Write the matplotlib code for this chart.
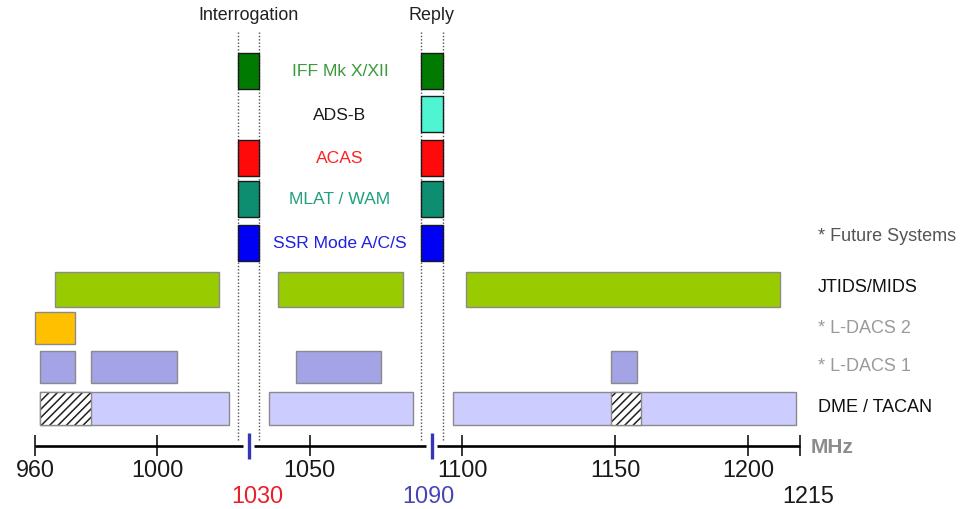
import numpy as np
import matplotlib
matplotlib.use('Agg')
import matplotlib.pyplot as plt

plt.rcParams['font.family'] = ['Liberation Sans', 'DejaVu Sans']
plt.rcParams['hatch.linewidth'] = 1.1

# ---------------- data ----------------
ssr_systems = ['IFF Mk X/XII', 'ADS-B', 'ACAS', 'MLAT / WAM', 'SSR Mode A/C/S']
ssr_has_interrogation = [True, False, True, True, True]
ssr_has_reply = [True, True, True, True, True]
interrogation_freq = 1030
reply_freq = 1090
interrogation_band = (1026.5, 1033.5)
reply_band = (1086.5, 1093.5)

jtids_bands = [(966.6, 1020.3), (1039.6, 1080.6), (1101.2, 1209.2)]
ldacs2_bands = [(960.0, 973.1)]
ldacs1_bands = [(961.6, 973.1), (978.2, 1006.6), (1045.5, 1073.5), (1148.6, 1158.4)]
dme_bands = [(961.6, 1023.6), (1036.7, 1083.8), (1097.0, 1213.8)]
dme_shared_bands = [(961.6, 978.3), (1148.6, 1159.7)]

upper_tick_values = [960, 1000, 1050, 1100, 1150, 1200]
end_value = 1215
start_value = 960

right_labels = ['* Future Systems', 'JTIDS/MIDS', '* L-DACS 2', '* L-DACS 1', 'DME / TACAN']

# ---------------- styles / layout ----------------
ssr_face = ['#007a00', '#4ff5d2', '#ff0a0a', '#0e8e70', '#0000f5']
ssr_text = ['#3a9a3a', '#1a1a1a', '#ff2020', '#20a080', '#2020e0']
ssr_rows = [71.5, 115, 158.5, 200, 243.5]
ssr_h = 36

# piecewise x scale of the (hand-drawn) diagram
F = [900, 960, 1150, 1200, 1215, 1300]
P = [-148.2, 35, 615, 748, 800, 1094.7]
fwd = lambda x: np.interp(x, F, P)
inv = lambda p: np.interp(p, P, F)

fig = plt.figure(figsize=(9.7, 5.1), dpi=100)
ax = fig.add_axes([0, 0, 1, 1])
ax.set_xscale('function', functions=(fwd, inv))
ax.set_xlim(inv(0), inv(970))
ax.set_ylim(510, 0)
ax.axis('off')

# dotted guide lines
ax.vlines([interrogation_band[0], interrogation_band[1], reply_band[0], reply_band[1]],
          33, 441, colors='#505050', linestyles=(0, (1, 1.4)), lw=1.0, zorder=1)

# SSR-type systems
for i, name in enumerate(ssr_systems):
    y = ssr_rows[i]
    if ssr_has_interrogation[i]:
        ax.barh(y, interrogation_band[1] - interrogation_band[0], left=interrogation_band[0],
                height=ssr_h, color=ssr_face[i], edgecolor='#1a1a1a', lw=1.0, zorder=3)
    if ssr_has_reply[i]:
        ax.barh(y, reply_band[1] - reply_band[0], left=reply_band[0],
                height=ssr_h, color=ssr_face[i], edgecolor='#1a1a1a', lw=1.0, zorder=3)
    ax.text(1059.9, y, name, color=ssr_text[i], fontsize=12.6, ha='center', va='center')

def bands(rows, y, h, color):
    for a, b in rows:
        ax.barh(y, b - a, left=a, height=h, color=color, edgecolor='#8a8a8a', lw=1.0, zorder=3)

bands(jtids_bands, 290, 35, '#99cc00')
bands(ldacs2_bands, 329, 32, '#ffc000')
bands(ldacs1_bands, 368, 32, '#a3a3e6')
bands(dme_bands, 409.5, 33, '#ccccff')
for a, b in dme_shared_bands:
    ax.barh(409.5, b - a, left=a, height=33, color='white', edgecolor='#202020',
            hatch='////', lw=0, zorder=4)
    ax.barh(409.5, b - a, left=a, height=33, fill=False, edgecolor='#8a8a8a', lw=1.0, zorder=5)

# headers
ax.text(interrogation_freq, 16, 'Interrogation', fontsize=12.9, ha='center', va='center', color='#222')
ax.text(reply_freq, 16, 'Reply', fontsize=12.9, ha='center', va='center', color='#222')

# right-hand labels
rl_y = [237, 288, 329, 367, 408]
rl_c = ['#555555', '#111111', '#9a9a9a', '#9a9a9a', '#111111']
for t, y, c in zip(right_labels, rl_y, rl_c):
    ax.text(1220.2, y, t, fontsize=13, ha='left', va='center', color=c)

# frequency axis
axis_y = 447
gap = 1.8
segs = [(start_value, interrogation_freq - gap), (interrogation_freq + gap, reply_freq - gap),
        (reply_freq + gap, end_value)]
for a, b in segs:
    ax.hlines(axis_y, a, b, colors='black', lw=1.9, zorder=5)
ax.vlines(upper_tick_values + [end_value], 436, 457, colors='black', lw=1.1, zorder=5)
ax.vlines([interrogation_freq, reply_freq], 434, 460, colors='#3535b5', lw=2.4, zorder=6)

for v in upper_tick_values:
    ax.text(v, 471, str(v), fontsize=16.8, ha='center', va='center', color='#1a1a1a')
ax.text(interrogation_freq + 2.7, 497, str(interrogation_freq), fontsize=16.8,
        ha='center', va='center', color='#e8202a')
ax.text(reply_freq - 1.0, 497, str(reply_freq), fontsize=16.8,
        ha='center', va='center', color='#4545b5')
ax.text(end_value + 2.3, 497, str(end_value), fontsize=16.8,
        ha='center', va='center', color='#1a1a1a')
ax.text(1218.2, 448, 'MHz', fontsize=15, fontweight='bold', ha='left', va='center', color='#8c8c8c')

fig.savefig('out.png', dpi=100)
